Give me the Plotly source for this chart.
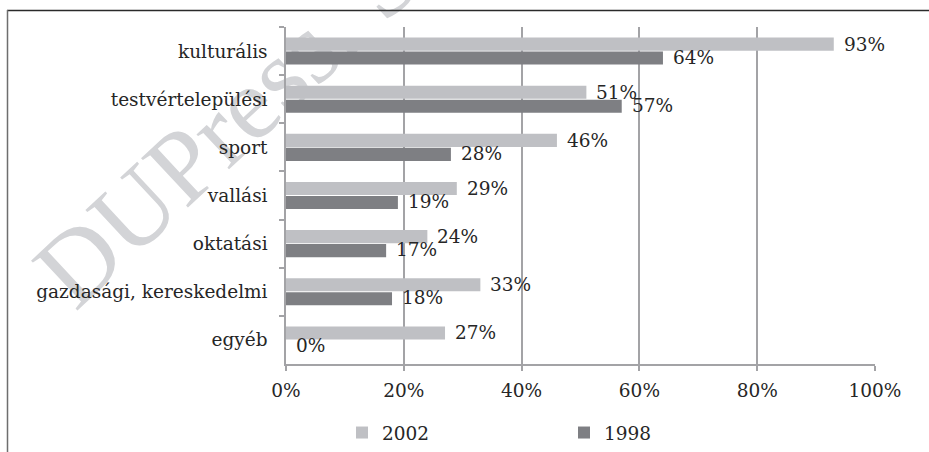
import plotly.graph_objects as go

# Purposes of partnerships, share of settlements (%)
categories = [
    "kulturális",
    "testvértelepülési",
    "sport",
    "vallási",
    "oktatási",
    "gazdasági, kereskedelmi",
    "egyéb",
]
share_2002 = [93, 51, 46, 29, 24, 33, 27]
share_1998 = [64, 57, 28, 19, 17, 18, 0]
x_ticks = [0, 20, 40, 60, 80, 100]
x_tick_labels = ["0%", "20%", "40%", "60%", "80%", "100%"]

FONT = "DejaVu Serif"
FS = 18.5
TEXT = "#262626"
LIGHT = "#bfc0c4"
DARK = "#7e7f83"
GRID = "#a3a3a6"

W, H = 929, 452
L, R, T, B = 286, 54, 27, 88


def px_x(p):
    return (p - L) / (W - L - R)


def px_y(p):
    return (H - B - p) / (H - T - B)


fig = go.Figure()
fig.add_trace(go.Bar(name="2002", y=categories, x=share_2002, orientation="h",
                     marker=dict(color=LIGHT, line_width=0)))
fig.add_trace(go.Bar(name="1998", y=categories, x=share_1998, orientation="h",
                     marker=dict(color=DARK, line_width=0)))

# value labels just past the end of each bar
for series, shift in ((share_2002, 7), (share_1998, -6)):
    for cat, val in zip(categories, series):
        fig.add_annotation(
            x=val, y=cat, xref="x", yref="y", text=f"{val}%", showarrow=False,
            xanchor="left", yanchor="middle", xshift=8, yshift=shift,
            font=dict(family=FONT, size=FS, color=TEXT),
        )

shapes = [
    # outer frame (top and left edges)
    dict(type="line", xref="paper", yref="paper", x0=px_x(7), x1=px_x(940),
         y0=px_y(10.5), y1=px_y(10.5), line=dict(color="#2a2a2a", width=1.5)),
    dict(type="line", xref="paper", yref="paper", x0=px_x(7.5), x1=px_x(7.5),
         y0=px_y(10), y1=px_y(460), line=dict(color="#6e6e6e", width=1.5)),
    # publisher watermark
    dict(type="rect", xref="paper", yref="paper", layer="below",
         x0=px_x(209), x1=px_x(229), y0=px_y(125), y1=px_y(105),
         line=dict(width=0), fillcolor="rgba(0,0,0,0)",
         label=dict(text="DUPress. S", textangle=-43, textposition="middle center",
                    font=dict(family="Liberation Serif", size=104, color="#d3d4d7"))),
]

fig.update_layout(
    width=W, height=H,
    margin=dict(l=L, r=R, t=T, b=B, pad=0, autoexpand=False),
    paper_bgcolor="white", plot_bgcolor="white",
    barmode="group", bargap=0.42, bargroupgap=0.06,
    font=dict(family=FONT, size=FS, color=TEXT),
    shapes=shapes,
    showlegend=True,
    legend=dict(orientation="h", x=px_x(342), xanchor="left", y=px_y(433), yanchor="middle",
                font=dict(family=FONT, size=FS, color=TEXT), entrywidth=177, itemwidth=30,
                bgcolor="rgba(0,0,0,0)", traceorder="normal"),
    xaxis=dict(
        range=[0, 100], tickvals=x_ticks, ticktext=x_tick_labels,
        showgrid=True, gridcolor=GRID, gridwidth=1.5,
        showline=True, linecolor=GRID, linewidth=1.5, zeroline=False,
        ticks="outside", ticklen=5, tickwidth=1.5, tickcolor=GRID,
        tickfont=dict(family=FONT, size=FS, color=TEXT), ticklabelstandoff=4,
        fixedrange=True,
    ),
    yaxis=dict(
        autorange="reversed", categoryorder="array", categoryarray=categories,
        tickson="boundaries", ticks="outside", ticklen=5, tickwidth=1.5, tickcolor=GRID,
        showline=True, linecolor=GRID, linewidth=1.5, showgrid=False, zeroline=False,
        tickfont=dict(family=FONT, size=FS, color=TEXT), ticklabelstandoff=13,
        fixedrange=True,
    ),
)

fig.write_html("out.html")
